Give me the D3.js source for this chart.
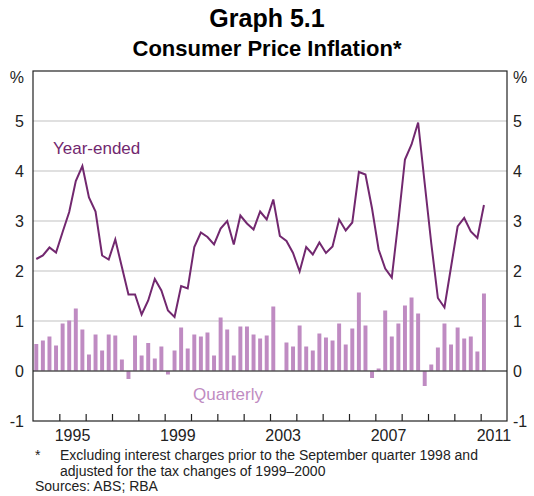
<!DOCTYPE html>
<html>
<head>
<meta charset="utf-8">
<script src="https://cdn.jsdelivr.net/npm/d3@7"></script>
<style>
  body { margin: 0; background: #fff; }
  svg { display: block; font-family: "Liberation Sans", Arial, sans-serif; }
</style>
</head>
<body>
<div id="chart"></div>
<script>
"use strict";

// Quarterly data, first quarter is March 1994, last is March 2011
var startYear = 1994;
var quarterly = [0.54, 0.61, 0.69, 0.51, 0.95, 1.01, 1.25, 0.83, 0.33, 0.73, 0.41, 0.73,
  0.71, 0.23, -0.16, 0.71, 0.31, 0.56, 0.25, 0.49, -0.07, 0.41, 0.87, 0.45,
  0.73, 0.69, 0.77, 0.31, 1.07, 0.83, 0.31, 0.89, 0.89, 0.73, 0.65, 0.71,
  1.29, 0.0, 0.57, 0.49, 0.91, 0.49, 0.41, 0.75, 0.67, 0.61, 0.95, 0.53,
  0.85, 1.57, 0.91, -0.14, 0.05, 1.21, 0.69, 0.95, 1.31, 1.47, 1.15, -0.3,
  0.13, 0.47, 0.95, 0.53, 0.87, 0.65, 0.69, 0.39, 1.55];
var yearEnded = [2.24, 2.31, 2.47, 2.37, 2.78, 3.18, 3.8, 4.1, 3.47, 3.19, 2.31, 2.23,
  2.63, 2.08, 1.53, 1.53, 1.13, 1.41, 1.84, 1.61, 1.21, 1.08, 1.70, 1.65,
  2.48, 2.77, 2.68, 2.53, 2.85, 3.0, 2.53, 3.11, 2.95, 2.83, 3.19, 3.03,
  3.43, 2.7, 2.6, 2.36, 1.99, 2.48, 2.33, 2.57, 2.36, 2.49, 3.03, 2.81,
  2.97, 3.98, 3.93, 3.25, 2.43, 2.05, 1.87, 3.0, 4.23, 4.53, 4.97, 3.75,
  2.55, 1.46, 1.27, 2.08, 2.89, 3.06, 2.79, 2.66, 3.32];
var yTicks = [-1, 0, 1, 2, 3, 4, 5];
var tickYears = d3.range(1995, 2012);
var labelYears = [1995, 1999, 2003, 2007, 2011];

var width = 534;
var height = 496;
var plotL = 33, plotR = 507, plotT = 71, plotB = 421;

var lineColor = "#72286f";
var barColor = "#bf8bc2";

var svg = d3.select("#chart")
  .append("svg")
    .attr("width", width)
    .attr("height", height);

var x = d3.scaleLinear().domain([1994, 2012]).range([plotL, plotR]);
var y = d3.scaleLinear().domain([-1, 6]).range([plotB, plotT]);

function qTime(i) { return startYear + (i + 0.5) / 4; }

// titles
svg.append("text")
  .attr("x", width / 2).attr("y", 27)
  .attr("text-anchor", "middle")
  .style("font-size", "25px").style("font-weight", "bold")
  .text("Graph 5.1");
svg.append("text")
  .attr("x", width / 2).attr("y", 56)
  .attr("text-anchor", "middle")
  .style("font-size", "22px").style("font-weight", "bold")
  .text("Consumer Price Inflation*");

// grid lines
svg.selectAll("grid")
  .data(yTicks.filter(d => d > -1 && d != 0))
  .enter()
  .append("line")
    .attr("x1", plotL).attr("x2", plotR)
    .attr("y1", d => y(d)).attr("y2", d => y(d))
    .style("stroke", "#d6d6d6")
    .style("stroke-width", 1.6);

// quarterly bars
var bw = (x(0.25) - x(0)) * 0.6;
svg.selectAll("bars")
  .data(quarterly)
  .enter()
  .append("rect")
    .attr("x", (d, i) => x(qTime(i)) - bw / 2)
    .attr("y", d => y(Math.max(0, d)))
    .attr("width", bw)
    .attr("height", d => Math.abs(y(d) - y(0)))
    .style("fill", barColor);

// zero line
svg.append("line")
  .attr("x1", plotL).attr("x2", plotR)
  .attr("y1", y(0)).attr("y2", y(0))
  .style("stroke", "#555")
  .style("stroke-width", 1.4);

// year-ended line
var line = d3.line()
  .x((d, i) => x(qTime(i)))
  .y(d => y(d));
svg.append("path")
  .attr("d", line(yearEnded))
  .style("fill", "none")
  .style("stroke", lineColor)
  .style("stroke-width", 2);

// frame
svg.append("rect")
  .attr("x", plotL).attr("y", plotT)
  .attr("width", plotR - plotL).attr("height", plotB - plotT)
  .style("fill", "none")
  .style("stroke", "#222")
  .style("stroke-width", 1.2);

// x axis ticks (inside, pointing up)
svg.append("g")
  .attr("transform", "translate(0," + plotB + ")")
  .call(d3.axisTop(x).tickValues(tickYears).tickSize(7).tickFormat(""))
  .call(g => g.select(".domain").remove())
  .call(g => g.selectAll("line").style("stroke", "#222").style("stroke-width", 1.2));

// x labels, centred in the year
svg.selectAll("xlab")
  .data(labelYears)
  .enter()
  .append("text")
    .attr("x", d => x(d + 0.5))
    .attr("y", 441)
    .attr("text-anchor", "middle")
    .style("font-size", "16px")
    .style("fill", "#222")
    .text(d => d);

// y labels, both sides
svg.selectAll("ylabL")
  .data(yTicks)
  .enter()
  .append("text")
    .attr("x", plotL - 9)
    .attr("y", d => y(d))
    .attr("dy", "0.35em")
    .attr("text-anchor", "end")
    .style("font-size", "16px")
    .style("fill", "#222")
    .text(d => d);
svg.selectAll("ylabR")
  .data(yTicks)
  .enter()
  .append("text")
    .attr("x", plotR + 6)
    .attr("y", d => y(d))
    .attr("dy", "0.35em")
    .attr("text-anchor", "start")
    .style("font-size", "16px")
    .style("fill", "#222")
    .text(d => d);
svg.append("text")
  .attr("x", plotL - 9).attr("y", plotT + 6).attr("dy", "0.35em")
  .attr("text-anchor", "end")
  .style("font-size", "16px").style("fill", "#222")
  .text("%");
svg.append("text")
  .attr("x", plotR + 6).attr("y", plotT + 6).attr("dy", "0.35em")
  .style("font-size", "16px").style("fill", "#222")
  .text("%");

// series labels
svg.append("text")
  .attr("x", 53).attr("y", 154)
  .style("font-size", "17px")
  .style("fill", lineColor)
  .text("Year-ended");
svg.append("text")
  .attr("x", 193).attr("y", 400)
  .style("font-size", "17px")
  .style("fill", barColor)
  .text("Quarterly");

// notes
svg.append("text")
  .attr("x", 35).attr("y", 460)
  .style("font-size", "14px").style("fill", "#222")
  .text("*");
svg.append("text")
  .attr("x", 60).attr("y", 460)
  .style("font-size", "14px").style("fill", "#222")
  .text("Excluding interest charges prior to the September quarter 1998 and");
svg.append("text")
  .attr("x", 60).attr("y", 476)
  .style("font-size", "14px").style("fill", "#222")
  .text("adjusted for the tax changes of 1999\u20132000");
svg.append("text")
  .attr("x", 35).attr("y", 491)
  .style("font-size", "14px").style("fill", "#222")
  .text("Sources: ABS; RBA");
</script>
</body>
</html>
